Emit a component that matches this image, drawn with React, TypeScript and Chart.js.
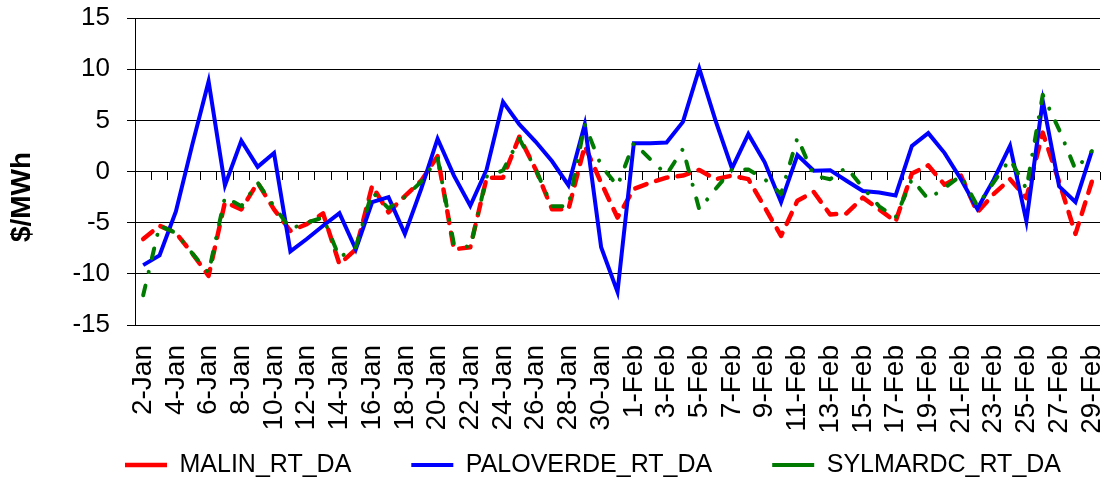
import React, { useEffect, useRef } from 'react';
import { Chart, registerables } from 'chart.js';

Chart.register(...registerables);

const dates = [
  '2-Jan', '3-Jan', '4-Jan', '5-Jan', '6-Jan', '7-Jan', '8-Jan', '9-Jan', '10-Jan', '11-Jan',
  '12-Jan', '13-Jan', '14-Jan', '15-Jan', '16-Jan', '17-Jan', '18-Jan', '19-Jan', '20-Jan', '21-Jan',
  '22-Jan', '23-Jan', '24-Jan', '25-Jan', '26-Jan', '27-Jan', '28-Jan', '29-Jan', '30-Jan', '31-Jan',
  '1-Feb', '2-Feb', '3-Feb', '4-Feb', '5-Feb', '6-Feb', '7-Feb', '8-Feb', '9-Feb', '10-Feb',
  '11-Feb', '12-Feb', '13-Feb', '14-Feb', '15-Feb', '16-Feb', '17-Feb', '18-Feb', '19-Feb', '20-Feb',
  '21-Feb', '22-Feb', '23-Feb', '24-Feb', '25-Feb', '26-Feb', '27-Feb', '28-Feb', '29-Feb',
];

const malin = [
  -6.6, -5.3, -6.0, -8.0, -10.2, -3.0, -3.7, -1.1, -3.7, -5.8,
  -5.15, -4.1, -9.05, -7.6, -1.4, -4.0, -2.4, -0.9, 1.5, -7.6,
  -7.4, -0.6, -0.6, 3.4, 0.2, -3.7, -3.7, 2.5, -1.1, -4.5,
  -1.7, -1.1, -0.6, -0.4, 0.15, -0.75, -0.4, -0.75, -3.5, -6.3,
  -2.85, -2.0, -4.2, -4.1, -2.55, -3.7, -4.9, -0.2, 0.6, -1.3,
  -0.4, -4.0, -2.2, -0.75, -2.6, 3.8, -1.0, -6.1, -1.0,
];

const paloverde = [
  -9.15, -8.2, -3.9, 2.6, 8.8, -1.35, 3.0, 0.45, 1.8, -7.8,
  -6.6, -5.3, -4.07, -7.6, -3.0, -2.5, -6.1, -1.7, 3.2, -0.4,
  -3.35, 0.2, 6.8, 4.6, 2.9, 1.0, -1.34, 4.6, -7.4, -11.76,
  2.77, 2.77, 2.83, 4.85, 10.07, 4.95, 0.3, 3.65, 0.9, -3.0,
  1.6, 0.07, 0.13, -0.9, -1.9, -2.05, -2.35, 2.5, 3.75, 1.8,
  -0.75, -3.65, -0.8, 2.5, -4.85, 6.9, -1.45, -2.98, 2.0,
];

const sylmardc = [
  -12.1, -5.3, -6.0, -8.0, -9.9, -2.5, -3.4, -1.1, -3.4, -5.6,
  -5.0, -4.5, -8.4, -7.4, -2.0, -3.6, -2.5, -1.0, 1.3, -7.1,
  -7.4, -0.5, 0.1, 3.2, 0.2, -3.4, -3.4, 4.6, 0.55, -1.4,
  2.8, 1.2, -0.3, 2.2, -3.7, -1.7, 0.2, 0.2, -0.75, -2.2,
  3.3, -0.4, -0.75, 0.4, -1.56, -3.4, -4.5, -0.75, -2.7, -1.6,
  -0.4, -3.35, -1.05, 1.2, -1.7, 7.5, 4.1, 0.2, 2.0,
];

const seriesNames = ['MALIN_RT_DA', 'PALOVERDE_RT_DA', 'SYLMARDC_RT_DA'];
const yAxisTitle = '$/MWh';

export default function App() {
  const ref = useRef<HTMLCanvasElement>(null);

  useEffect(() => {
    const regular = "'Liberation Sans', Arial, sans-serif";
    const hiddenLeft = (weight: number, withTitle: boolean) => ({
      type: 'linear',
      axis: 'y',
      position: 'left',
      display: true,
      stack: 'titleStack',
      stackWeight: weight,
      grid: { display: false },
      border: { display: false },
      ticks: { display: false },
      title: {
        display: withTitle,
        text: yAxisTitle,
        color: '#000',
        font: { family: regular, size: 28, weight: 'bold' },
        padding: { top: -59.8, bottom: 0 },
      },
      afterFit: (s: any) => {
        s.width = 0;
        s.paddingTop = 0;
        s.paddingBottom = 0;
      },
    });
    const chart = new Chart(ref.current as HTMLCanvasElement, {
      type: 'line',
      data: {
        labels: dates,
        datasets: [
          {
            label: seriesNames[0],
            data: malin,
            xAxisID: 'x',
            yAxisID: 'y',
            borderColor: '#FF0000',
            backgroundColor: '#FF0000',
            borderWidth: 4.5,
            borderDash: [12, 10],
            borderCapStyle: 'round',
            borderJoinStyle: 'round',
            pointRadius: 0,
            tension: 0,
            fill: false,
            order: 3,
          },
          {
            label: seriesNames[1],
            data: paloverde,
            xAxisID: 'x',
            yAxisID: 'y',
            borderColor: '#0000FF',
            backgroundColor: '#0000FF',
            borderWidth: 4,
            borderCapStyle: 'butt',
            borderJoinStyle: 'miter',
            pointRadius: 0,
            tension: 0,
            fill: false,
            order: 2,
          },
          {
            label: seriesNames[2],
            data: sylmardc,
            xAxisID: 'x',
            yAxisID: 'y',
            borderColor: '#007A00',
            backgroundColor: '#007A00',
            borderWidth: 4,
            borderDash: [10, 14, 0.1, 14],
            borderCapStyle: 'round',
            borderJoinStyle: 'round',
            pointRadius: 0,
            tension: 0,
            fill: false,
            order: 1,
          },
        ],
      },
      options: {
        responsive: false,
        animation: false,
        devicePixelRatio: 1,
        events: [],
        layout: { padding: { left: 65, right: -60, top: 18, bottom: -4.5 } },
        scales: {
          x: {
            type: 'category',
            axis: 'x',
            position: { y: 0 } as any,
            offset: true,
            grid: {
              display: true,
              drawOnChartArea: false,
              drawTicks: true,
              tickLength: 8,
              offset: true,
              color: '#000',
              lineWidth: 1,
            },
            border: { display: false },
            ticks: {
              autoSkip: false,
              maxRotation: 90,
              minRotation: 90,
              padding: 165.5,
              color: '#000',
              font: { family: regular, size: 28 },
              callback: (_v: any, i: number) => (i % 2 === 0 ? dates[i] : ''),
            },
            afterFit: (s: any) => {
              s.paddingLeft = 0;
              s.paddingRight = 0;
              s.paddingTop = 0;
              s.paddingBottom = 0;
            },
          },
          xPad: {
            type: 'category',
            axis: 'x',
            position: 'bottom',
            display: true,
            grid: { display: false },
            border: { display: false },
            ticks: { display: false },
            afterFit: (s: any) => {
              s.height = 67.5;
            },
          },
          y: {
            type: 'linear',
            position: 'left',
            min: -15,
            max: 15,
            ticks: {
              stepSize: 5,
              autoSkip: false,
              padding: 17,
              color: '#000',
              font: { family: regular, size: 26 },
            },
            grid: { color: '#000', lineWidth: 1, drawTicks: true, tickLength: 8 },
            border: { display: true, color: '#000', width: 1 },
            afterFit: (s: any) => {
              s.width = 70;
              s.paddingTop = 0;
              s.paddingBottom = 0;
            },
          },
          yTitleBottom: hiddenLeft(256, true),
          yTitleTop: hiddenLeft(51, false),
          yR: {
            type: 'linear',
            axis: 'y',
            position: 'right',
            display: true,
            grid: { display: false },
            border: { display: false },
            ticks: { display: false },
            afterFit: (s: any) => {
              s.width = 72;
            },
          },
        },
        plugins: {
          tooltip: { enabled: false },
          legend: {
            position: 'bottom',
            align: 'start',
            labels: {
              usePointStyle: true,
              pointStyle: 'line',
              pointStyleWidth: 42,
              padding: 60,
              color: '#000',
              font: { family: regular, size: 25 },
              sort: (a: any, b: any) => a.datasetIndex - b.datasetIndex,
            },
          },
        },
      } as any,
    });
    return () => chart.destroy();
  }, []);

  return (
    <div style={{ position: 'fixed', left: 0, top: 0, width: 1112, height: 483, background: '#fff' }}>
      <canvas ref={ref} width={1112} height={483} />
    </div>
  );
}
